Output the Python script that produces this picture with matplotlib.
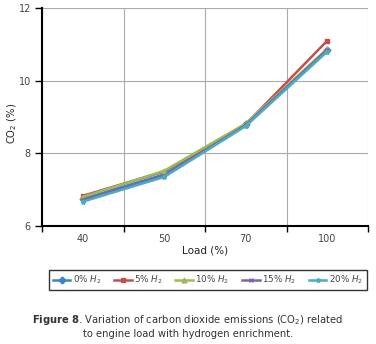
import matplotlib
matplotlib.use("Agg")
from matplotlib import pyplot as plt

# 数据
loads = ["40", "50", "70", "100"]
co2_0 = [6.75, 7.42, 8.80, 10.85]
co2_5 = [6.83, 7.50, 8.80, 11.10]
co2_10 = [6.80, 7.52, 8.82, 10.88]
co2_15 = [6.72, 7.38, 8.78, 10.85]
co2_20 = [6.67, 7.35, 8.75, 10.80]
series_labels = ["0% $H_2$", "5% $H_2$", "10% $H_2$", "15% $H_2$", "20% $H_2$"]

colors = ["#3a87c8", "#c0504d", "#9bbb59", "#8064a2", "#4bacc6"]
markers = ["D", "s", "^", "x", "*"]

txt = "#444444"
plt.rcParams["font.family"] = ["DejaVu Sans"]

fig = plt.figure(figsize=(3.76, 3.44), dpi=100)
ax = fig.add_axes([42 / 376, 1 - 226 / 344, 326 / 376, 218 / 344])

x = list(range(len(loads)))
for ys, c, m, lab in zip([co2_0, co2_5, co2_10, co2_15, co2_20], colors, markers, series_labels):
    ax.plot(x, ys, color=c, marker=m, markersize=3.5, linewidth=1.8, label=lab)

ax.set_xlim(-0.5, 3.5)
ax.set_ylim(6, 12)
ax.set_xticks(x)
ax.set_xticklabels(loads, fontsize=7, color=txt)
ax.set_xticks([-0.5, 0.5, 1.5, 2.5, 3.5], minor=True)
ax.tick_params(axis="x", which="major", length=0, pad=6)
ax.tick_params(axis="x", which="minor", length=4, width=1, direction="out")
ax.set_yticks([6, 8, 10, 12])
ax.tick_params(axis="y", labelsize=7, labelcolor=txt, length=5, width=1, pad=3)
ax.grid(True, axis="x", which="minor", color="#aaaaaa", linewidth=0.8)
ax.grid(True, axis="y", which="major", color="#aaaaaa", linewidth=0.8)
for s in ["top", "right"]:
    ax.spines[s].set_visible(False)
ax.spines["left"].set_linewidth(1.5)
ax.spines["bottom"].set_linewidth(1.5)

ax.set_xlabel("Load (%)", fontsize=7.5, color="#222222", labelpad=1)
ax.set_ylabel("CO$_2$ (%)", fontsize=7.2, color="#222222")
ax.yaxis.set_label_coords(-0.072, 0.47)

leg = fig.legend(loc="center", bbox_to_anchor=(45 / 376, 1 - 291 / 344, 326 / 376, 22 / 344),
                 mode="expand", ncol=5, fontsize=6.3, frameon=True, fancybox=False,
                 edgecolor="black", handlelength=2.0, handletextpad=0.3, borderpad=0.4)
leg.get_frame().set_linewidth(1.0)
for t in leg.get_texts():
    t.set_color(txt)

fig.text(188 / 376, 1 - 320 / 344, r"$\bf{Figure\ 8}$. Variation of carbon dioxide emissions (CO$_2$) related",
         ha="center", va="center", fontsize=7.2, color="#333333")
fig.text(188 / 376, 1 - 334 / 344, "to engine load with hydrogen enrichment.",
         ha="center", va="center", fontsize=7.2, color="#333333")

plt.savefig("out.png", dpi=100)
